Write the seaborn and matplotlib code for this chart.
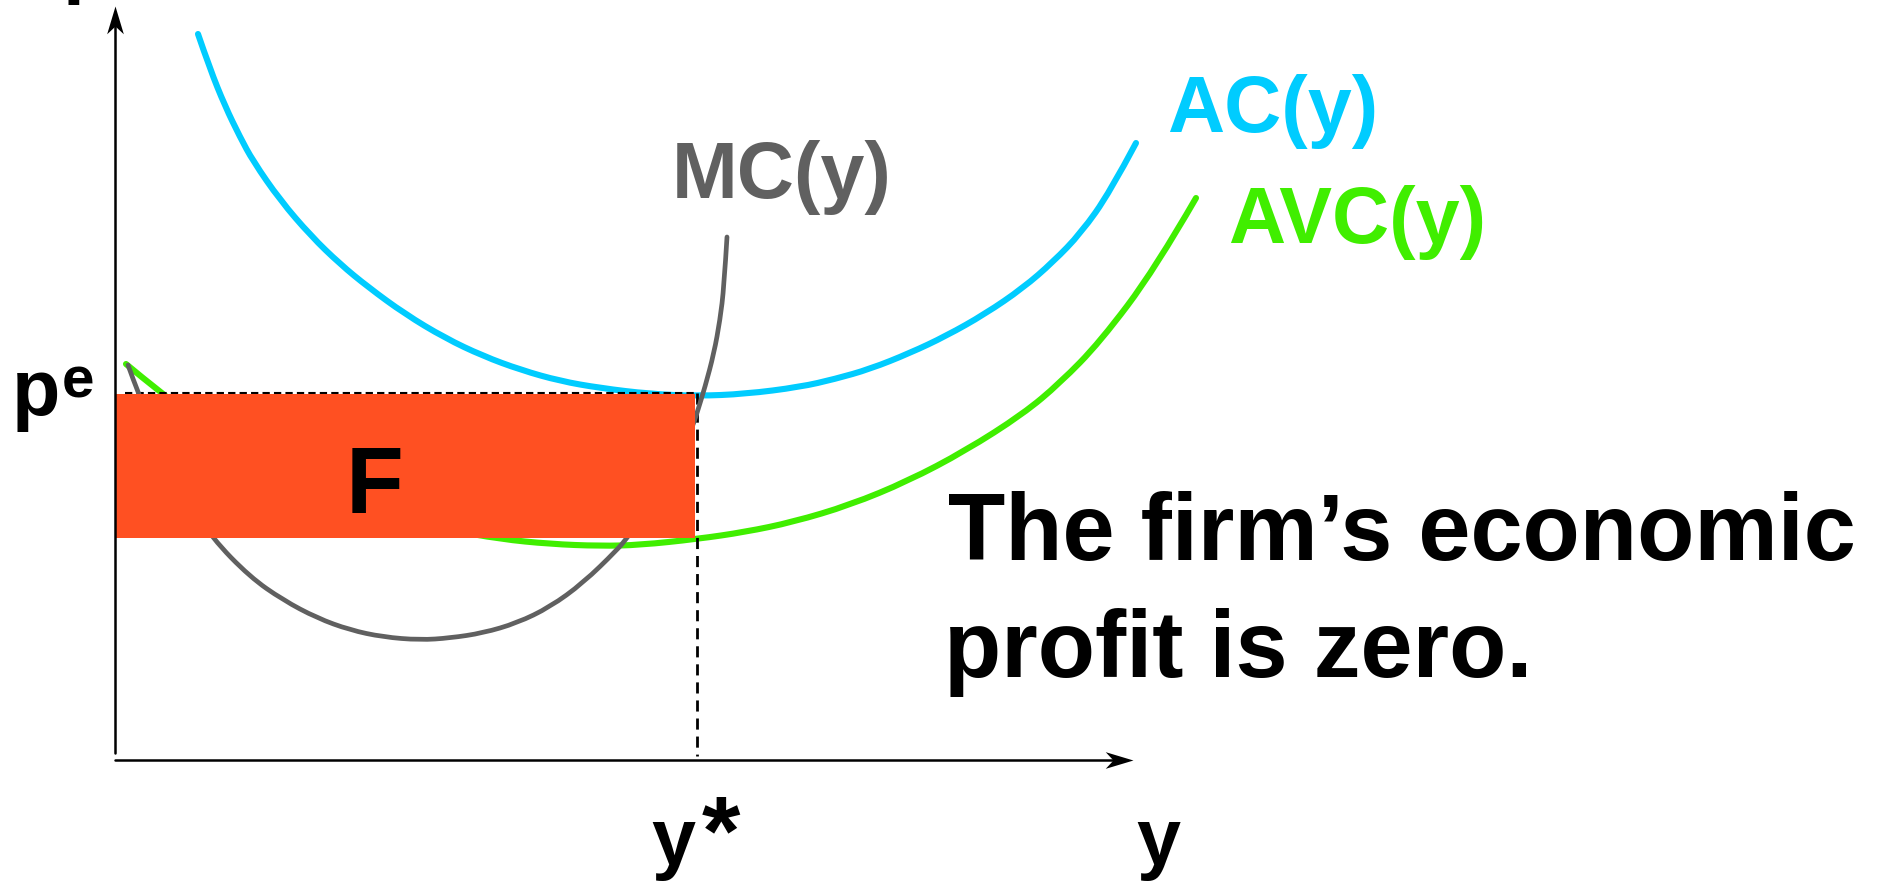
import matplotlib
matplotlib.use('Agg')
import matplotlib.pyplot as plt
import seaborn as sns
from matplotlib.patches import Rectangle, PathPatch
from matplotlib.path import Path

# Cost curves (output y, cost per unit)
ac_y = [0.83, 0.95, 1.10, 1.25, 1.38, 1.65, 1.96, 2.25, 2.53, 2.90, 3.30, 3.68, 4.06,
        4.45, 4.85, 5.35, 5.82, 6.30, 6.85, 7.20, 7.55, 7.95, 8.31, 8.70, 9.08, 9.38,
        9.66, 9.95, 10.21]
ac_cost = [7.26, 6.91, 6.54, 6.23, 5.99, 5.60, 5.24, 4.96, 4.73, 4.46, 4.22, 4.04, 3.90,
           3.79, 3.72, 3.66, 3.64, 3.66, 3.73, 3.81, 3.91, 4.07, 4.24, 4.46, 4.72, 4.98,
           5.27, 5.68, 6.17]

avc_y = [0.11, 0.46, 0.85, 1.35, 1.85, 2.35, 2.85, 3.35, 3.85, 4.35, 4.85, 5.25, 5.82,
         6.30, 6.78, 7.35, 7.93, 8.50, 9.08, 9.45, 9.85, 10.40, 10.81]
avc_cost = [3.96, 3.67, 3.38, 3.07, 2.82, 2.61, 2.44, 2.30, 2.21, 2.16, 2.14, 2.15, 2.21,
            2.28, 2.38, 2.55, 2.79, 3.09, 3.46, 3.77, 4.18, 4.91, 5.62]

mc_y = [0.13, 0.23, 0.45, 0.70, 0.97, 1.35, 1.68, 2.02, 2.35, 2.68, 3.05, 3.35, 3.68,
        4.02, 4.35, 4.68, 5.02, 5.12, 5.35, 5.55, 5.70, 5.78, 5.82, 5.90, 5.99, 6.05,
        6.09, 6.12]
mc_cost = [3.95, 3.67, 3.14, 2.64, 2.22, 1.83, 1.60, 1.42, 1.30, 1.23, 1.20, 1.22, 1.27,
           1.37, 1.53, 1.77, 2.10, 2.22, 2.53, 2.84, 3.15, 3.35, 3.47, 3.73, 4.07, 4.40,
           4.73, 5.23]

p_e = 3.67        # market price
y_star = 5.82     # output where p = MC = min AC
avc_at_ystar = 2.22
y_axis_top = 7.54
x_axis_end = 10.18

GRAY = '#606060'
CYAN = '#00CCFF'
GREEN = '#40EE00'
ORANGE = '#FF5022'


def smooth_curve(ax, xs, ys, color, lw, z):
    # quadratic bezier through the midpoints of the read points
    pts = list(zip(xs, ys))
    verts = [pts[0]]
    codes = [Path.MOVETO]
    for i in range(1, len(pts) - 2):
        mid = ((pts[i][0] + pts[i + 1][0]) / 2, (pts[i][1] + pts[i + 1][1]) / 2)
        verts += [pts[i], mid]
        codes += [Path.CURVE3, Path.CURVE3]
    verts += [pts[-2], pts[-1]]
    codes += [Path.CURVE3, Path.CURVE3]
    ax.add_patch(PathPatch(Path(verts, codes), facecolor='none', edgecolor=color,
                           lw=lw, capstyle='round', joinstyle='round', zorder=z))


sns.set_style('white')
plt.rcParams['font.family'] = ['Liberation Sans', 'DejaVu Sans']
plt.rcParams['font.weight'] = 'bold'

fig = plt.figure(figsize=(18.86, 8.90), dpi=100)
ax = fig.add_axes([0, 0, 1, 1])
ax.set_xlim(-1.15, 17.71)
ax.set_ylim(-1.30, 7.60)

# curves
smooth_curve(ax, ac_y, ac_cost, CYAN, 4.4, 1)
smooth_curve(ax, avc_y, avc_cost, GREEN, 4.4, 1)

# dashed guides
sns.lineplot(x=[0.1, y_star], y=[p_e, p_e], color='black', lw=1.5,
             linestyle=(0, (3.5, 2)), ax=ax, zorder=2)
sns.lineplot(x=[y_star, y_star], y=[p_e, 0.04], color='black', lw=2.0,
             linestyle=(0, (4, 2.5)), ax=ax, zorder=2, sort=False, estimator=None)

smooth_curve(ax, mc_y, mc_cost, GRAY, 3.4, 2.5)

# fixed cost block
ax.add_patch(Rectangle((0, avc_at_ystar), y_star - 0.02, p_e - 0.01 - avc_at_ystar,
                       facecolor=ORANGE, edgecolor='none', zorder=3))
ax.text(2.31, 2.47, 'F', fontsize=68, fontweight='bold', color='black',
        ha='left', va='baseline', zorder=5)

# axes with stealth arrow heads
ax.plot([0, 0], [0.07, y_axis_top - 0.1], color='black', lw=1.8, zorder=4)
ax.plot([0, x_axis_end - 0.1], [0, 0], color='black', lw=1.8, zorder=4)
head_right = Path([(0, 0), (-1, 0.3), (-0.72, 0), (-1, -0.3), (0, 0)],
                  [Path.MOVETO, Path.LINETO, Path.LINETO, Path.LINETO, Path.CLOSEPOLY])
head_up = Path([(0, 0), (0.3, -1), (0, -0.72), (-0.3, -1), (0, 0)],
               [Path.MOVETO, Path.LINETO, Path.LINETO, Path.LINETO, Path.CLOSEPOLY])
ax.plot([x_axis_end], [0], marker=head_right, markersize=40, color='black',
        markeredgewidth=0, zorder=4)
ax.plot([0], [y_axis_top], marker=head_up, markersize=40, color='black',
        markeredgewidth=0, zorder=4)

# labels
lab = dict(fontsize=57, fontweight='bold', ha='left', va='baseline', zorder=5)
ax.text(5.57, 5.62, 'MC(y)', color=GRAY, **lab)
ax.text(10.52, 6.28, 'AC(y)', color=CYAN, **lab)
ax.text(11.13, 5.17, 'AVC(y)', color=GREEN, **lab)
ax.text(-1.03, 3.45, 'p', color='black', **lab)
ax.text(-0.53, 3.63, 'e', color='black', fontsize=42, fontweight='bold',
        ha='left', va='baseline')
ax.text(-0.52, 7.72, 'p', color='black', **lab)
ax.text(5.36, -1.04, 'y', color='black', **lab)
ax.text(5.87, -1.04, '*', color='black', fontsize=71, fontweight='bold',
        ha='left', va='baseline')
ax.text(10.21, -1.04, 'y', color='black', **lab)

cap = dict(fontsize=67.5, fontweight='bold', ha='left', va='baseline', color='black')
ax.text(8.33, 2.00, 'The firm\u2019s economic', **cap)
ax.text(8.29, 0.83, 'profit is zero.', **cap)

ax.axis('off')
fig.savefig('out.png', dpi=100)
